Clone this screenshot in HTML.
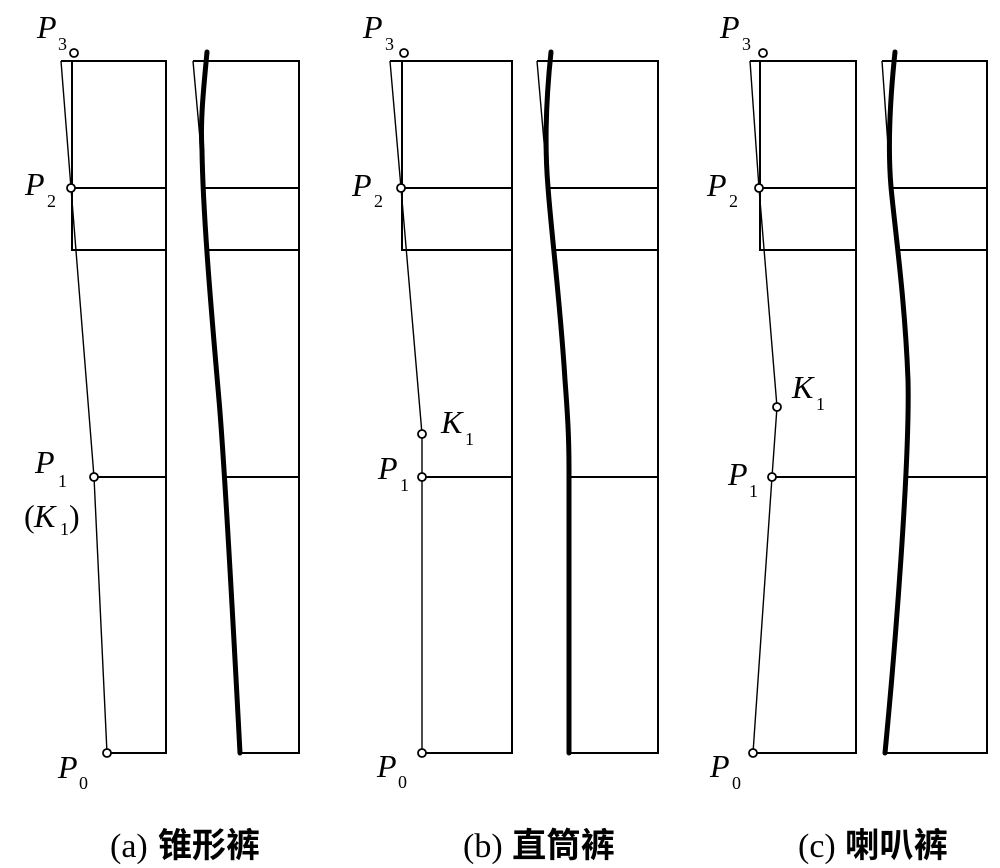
<!DOCTYPE html>
<html>
<head>
<meta charset="utf-8">
<style>
  html, body { margin: 0; padding: 0; background: #fff; }
  svg { display: block; }
  .P { font-family: "Liberation Serif", serif; font-style: italic; font-size: 32px; fill: #000; }
  .s { font-family: "Liberation Serif", serif; font-size: 18px; fill: #000; }
  .n { font-family: "Liberation Serif", serif; font-size: 32px; fill: #000; }
  .cap { font-family: "Liberation Serif", serif; font-size: 34px; fill: #000; }
  .cjk { font-family: "Liberation Sans", "Noto Sans CJK SC", "WenQuanYi Zen Hei", sans-serif; font-size: 34px; font-weight: 700; fill: #000; }
</style>
</head>
<body>
<svg width="1000" height="868" viewBox="0 0 1000 868" xmlns="http://www.w3.org/2000/svg">
  <rect width="1000" height="868" fill="#fff"/>

  <!-- frame lines -->
  <g fill="none" stroke="#000" stroke-width="2" stroke-linejoin="miter">
    <!-- (a) left -->
    <path d="M61,61 H166 V753 H107 M72,61 V250 H166 M71,188 H166 M94,477 H166"/>
    <!-- (a) right -->
    <path d="M193,61 H299 V753 H240 M204,188 H299 M208,250 H299 M226,477 H299"/>
    <!-- (b) left -->
    <path d="M390,61 H512 V753 H422 M402,61 V250 H512 M401,188 H512 M422,477 H512"/>
    <!-- (b) right -->
    <path d="M537,61 H658 V753 H569 M548,188 H658 M553,250 H658 M569,477 H658"/>
    <!-- (c) left -->
    <path d="M750,61 H856 V753 H753 M760,61 V250 H856 M759,188 H856 M772,477 H856"/>
    <!-- (c) right -->
    <path d="M882,61 H987 V753 H885 M891,188 H987 M897,250 H987 M904,477 H987"/>
  </g>

  <!-- thin control polylines -->
  <g fill="none" stroke="#000" stroke-width="1.4">
    <path d="M61,61 L71,188 L94,477 L107,753"/>
    <path d="M193,61 L201,150"/>
    <path d="M390,61 L401,188 L422,434 L422,753"/>
    <path d="M537,61 L548,188"/>
    <path d="M750,61 L759,188 L777,407 L772,477 L753,753"/>
    <path d="M882,61 L891,188"/>
  </g>

  <!-- thick curves -->
  <g fill="none" stroke="#000" stroke-width="5" stroke-linecap="round">
    <path d="M207,52 C204,85 200,120 202,150 C203,220 213,330 219,400 C225,470 233,620 240,753"/>
    <path d="M551,52 C547,90 544,140 548,187 C551,230 560,300 565,380 C568,420 569,440 569,470 L569,753"/>
    <path d="M895,52 C891,90 887,140 891,187 C895,230 905,300 908,380 C910,460 895,650 885,753"/>
  </g>

  <!-- control point circles -->
  <g fill="#fff" stroke="#000" stroke-width="1.8">
    <circle cx="74" cy="53" r="4"/>
    <circle cx="71" cy="188" r="4"/>
    <circle cx="94" cy="477" r="4"/>
    <circle cx="107" cy="753" r="4"/>

    <circle cx="404" cy="53" r="4"/>
    <circle cx="401" cy="188" r="4"/>
    <circle cx="422" cy="434" r="4"/>
    <circle cx="422" cy="477" r="4"/>
    <circle cx="422" cy="753" r="4"/>

    <circle cx="763" cy="53" r="4"/>
    <circle cx="759" cy="188" r="4"/>
    <circle cx="777" cy="407" r="4"/>
    <circle cx="772" cy="477" r="4"/>
    <circle cx="753" cy="753" r="4"/>
  </g>

  <!-- labels (a) -->
  <text class="P" x="37" y="38">P</text><text class="s" x="58" y="50">3</text>
  <text class="P" x="25" y="195">P</text><text class="s" x="47" y="207">2</text>
  <text class="P" x="35" y="473">P</text><text class="s" x="58" y="487">1</text>
  <text class="n" x="24" y="527">(</text><text class="P" x="34" y="527">K</text><text class="s" x="60" y="535">1</text><text class="n" x="69" y="527">)</text>
  <text class="P" x="58" y="778">P</text><text class="s" x="79" y="789">0</text>

  <!-- labels (b) -->
  <text class="P" x="363" y="38">P</text><text class="s" x="385" y="50">3</text>
  <text class="P" x="352" y="196">P</text><text class="s" x="374" y="207">2</text>
  <text class="P" x="441" y="433">K</text><text class="s" x="465" y="445">1</text>
  <text class="P" x="378" y="479">P</text><text class="s" x="400" y="491">1</text>
  <text class="P" x="377" y="777">P</text><text class="s" x="398" y="788">0</text>

  <!-- labels (c) -->
  <text class="P" x="720" y="38">P</text><text class="s" x="742" y="50">3</text>
  <text class="P" x="707" y="196">P</text><text class="s" x="729" y="207">2</text>
  <text class="P" x="792" y="398">K</text><text class="s" x="816" y="410">1</text>
  <text class="P" x="728" y="485">P</text><text class="s" x="749" y="497">1</text>
  <text class="P" x="710" y="777">P</text><text class="s" x="732" y="789">0</text>

  <!-- captions -->
  <text class="cap" x="110" y="857">(a)</text>
  <text class="cjk" x="158" y="857" textLength="102" lengthAdjust="spacingAndGlyphs">锥形裤</text>

  <text class="cap" x="463" y="857">(b)</text>
  <text class="cjk" x="512" y="857" textLength="103" lengthAdjust="spacingAndGlyphs">直筒裤</text>

  <text class="cap" x="798" y="857">(c)</text>
  <text class="cjk" x="845" y="857" textLength="103" lengthAdjust="spacingAndGlyphs">喇叭裤</text>
</svg>
</body>
</html>
